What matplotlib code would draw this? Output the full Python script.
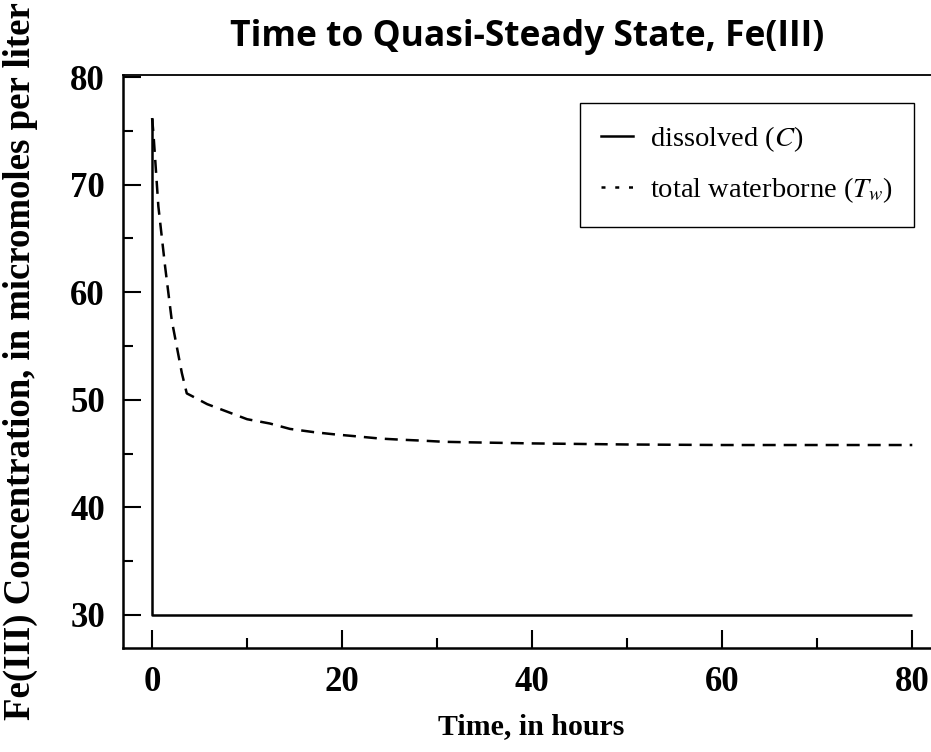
import matplotlib
matplotlib.use('Agg')
import matplotlib.pyplot as plt
from matplotlib.lines import Line2D

# --- data ---
dissolved_t = [0.0, 0.0, 80.0]
dissolved_c = [76.2, 30.0, 30.0]

total_t = [0, 0.14, 0.66, 1.37, 2.07, 3.13, 3.65, 4.2, 5.8, 7.9, 10, 12.4, 14.5,
           17, 19.1, 21.6, 24, 26.1, 28.6, 30.7, 33.5, 40, 50, 60, 70, 80]
total_c = [76.2, 74.8, 68.0, 62.4, 57.4, 52.5, 50.6, 50.35, 49.6, 48.9, 48.2, 47.8, 47.3,
           47.0, 46.8, 46.6, 46.4, 46.3, 46.2, 46.1, 46.05, 45.95, 45.85, 45.8, 45.8, 45.8]

x_major = [0, 20, 40, 60, 80]
x_minor = [10, 30, 50, 70]
y_major = [30, 40, 50, 60, 70, 80]
y_minor = [35, 45, 55, 65, 75]

plt.rcParams['mathtext.fontset'] = 'stix'
serif = 'Liberation Serif'
lw = 1.8

fig = plt.figure(figsize=(9.31, 7.52), dpi=100)
ax = fig.add_axes([123 / 931, 104 / 752, 1 - 123 / 931 + 0.01, (648 - 75) / 752])

ax.plot(dissolved_t, dissolved_c, color='black', linewidth=lw, solid_capstyle='butt')
ax.plot(total_t, total_c, color='black', linewidth=lw, dashes=(5.2, 3.2))

ax.set_xlim(-3.06, 82.95)
ax.set_ylim(26.93, 80.2)

ax.set_xticks(x_major)
ax.set_xticks(x_minor, minor=True)
ax.set_yticks(y_major)
ax.set_yticks(y_minor, minor=True)
ax.tick_params(which='major', direction='in', length=13, width=1.5, pad=13)
ax.tick_params(which='minor', direction='in', length=7, width=1.5)

for lab in ax.get_xticklabels() + ax.get_yticklabels():
    lab.set_fontfamily(serif)
    lab.set_fontweight('bold')
    lab.set_fontsize(25)

ax.spines['right'].set_visible(False)
ax.spines['left'].set_linewidth(1.8)
ax.spines['bottom'].set_linewidth(1.8)
ax.spines['top'].set_linewidth(1.3)

ax.set_xlabel('Time, in hours', fontfamily=serif, fontweight='bold', fontsize=21.5, labelpad=10)
ax.set_ylabel('Fe(III) Concentration, in micromoles per liter', fontfamily=serif,
              fontweight='bold', fontsize=26.5, labelpad=23)

fig.text(527 / 931, 1 - 37 / 752, 'Time to Quasi-Steady State, Fe(III)', ha='center', va='center',
         fontfamily='Open Sans', fontweight='bold', fontsize=25.5)

handles = [
    Line2D([], [], color='black', linewidth=lw, label=r'dissolved ($C$)'),
    Line2D([], [], color='black', linewidth=lw, dashes=(1.6, 3.9), label=r'total waterborne ($T_w$)'),
]
leg = ax.legend(handles=handles, loc='upper right', bbox_to_anchor=(914 / 931, 1 - 103 / 752),
                bbox_transform=fig.transFigure, borderaxespad=0, fancybox=False,
                edgecolor='black', framealpha=1, prop={'family': serif, 'size': 20.5},
                handlelength=1.1, handletextpad=0.6, labelspacing=0.75, borderpad=0.75)
leg.get_frame().set_linewidth(1.0)

fig.savefig('out.png', dpi=100)
